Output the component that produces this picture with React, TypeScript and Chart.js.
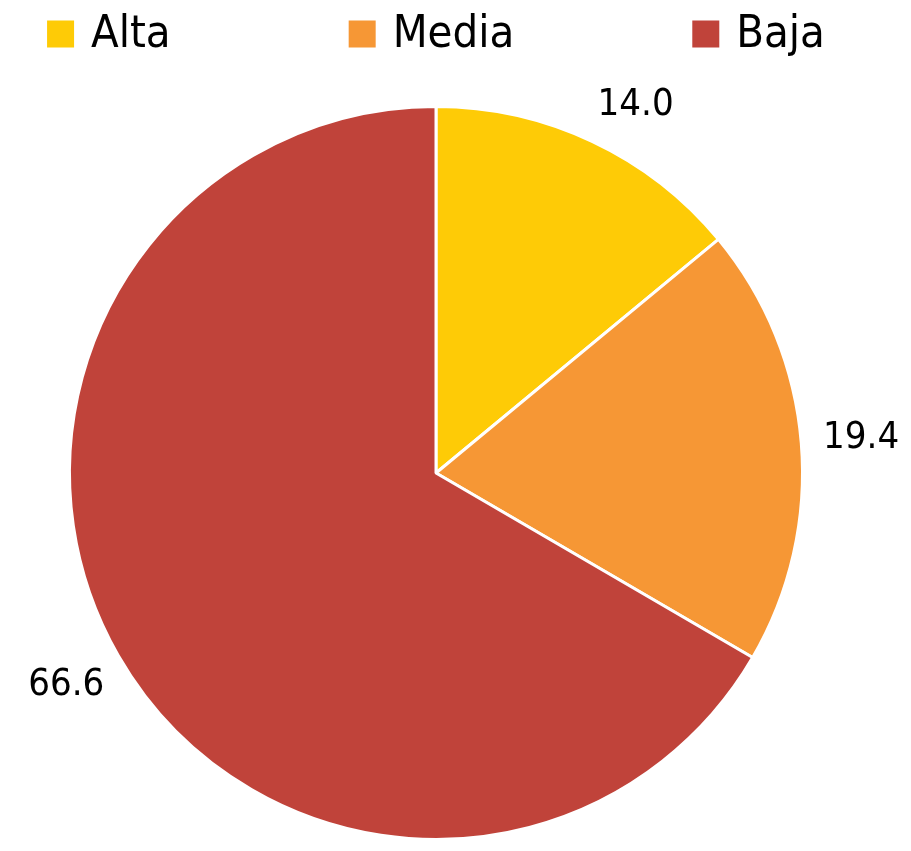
import React, { useEffect, useRef } from "react";
import { Chart, registerables } from "chart.js";

Chart.register(...registerables);

const categories = ["Alta", "Media", "Baja"];
const values = [14.0, 19.4, 66.6];
const colors = ["#FECB06", "#F69735", "#C0433A"];

const legendFont = "45px 'DejaVu Sans Condensed', sans-serif";
const labelFont = "38px 'DejaVu Sans Condensed', sans-serif";

const customLegend = {
  id: "customLegend",
  afterDraw(chart: any) {
    const ctx = chart.ctx;
    const box = 27;
    const gapText = 17;
    const gapItem = 178;
    ctx.save();
    ctx.font = legendFont;
    const labels: string[] = chart.data.labels;
    const widths = labels.map((l) => box + gapText + ctx.measureText(l).width);
    const total = widths.reduce((a, b) => a + b, 0) + gapItem * (labels.length - 1);
    const ca = chart.chartArea;
    let x = (ca.left + ca.right) / 2 - total / 2;
    const cy = 34;
    labels.forEach((l, i) => {
      ctx.fillStyle = chart.data.datasets[0].backgroundColor[i];
      ctx.fillRect(x, cy - box / 2, box, box);
      ctx.fillStyle = "#000";
      ctx.textAlign = "left";
      ctx.textBaseline = "middle";
      ctx.fillText(l, x + box + gapText, cy + 1);
      x += widths[i] + gapItem;
    });
    ctx.restore();
  },
};

const sliceLabels = {
  id: "sliceLabels",
  afterDraw(chart: any) {
    const ctx = chart.ctx;
    const meta = chart.getDatasetMeta(0);
    ctx.save();
    ctx.font = labelFont;
    ctx.fillStyle = "#000";
    ctx.textAlign = "center";
    ctx.textBaseline = "middle";
    meta.data.forEach((arc: any, i: number) => {
      const p = arc.getProps(["x", "y", "startAngle", "endAngle", "outerRadius"], true);
      const mid = (p.startAngle + p.endAngle) / 2;
      const r = p.outerRadius + 60;
      const v = chart.data.datasets[0].data[i];
      const tx = p.x + Math.cos(mid) * r;
      const ty = p.y + Math.sin(mid) * r;
      // nudge labels slightly clockwise like the reference placement
      const nudge = i === 0 ? 18 : 0;
      ctx.fillText(v.toFixed(1), tx + nudge, ty + (i === 0 ? 18 : 0));
    });
    ctx.restore();
  },
};

export default function App() {
  const ref = useRef<HTMLCanvasElement>(null);
  useEffect(() => {
    const chart = new Chart(ref.current!, {
      type: "pie",
      data: {
        labels: categories,
        datasets: [
          {
            data: values,
            backgroundColor: colors,
            borderColor: "#FFFFFF",
            borderWidth: 3,
          },
        ],
      },
      options: {
        animation: false,
        responsive: false,
        layout: { padding: { top: 105, bottom: 10, left: 0, right: 39 } },
        plugins: { legend: { display: false }, tooltip: { enabled: false } },
      },
      plugins: [customLegend, sliceLabels],
    });
    return () => chart.destroy();
  }, []);
  return (
    <div style={{ position: "absolute", left: 0, top: 0, width: 911, height: 851, background: "#fff" }}>
      <canvas ref={ref} width={911} height={851} />
    </div>
  );
}
